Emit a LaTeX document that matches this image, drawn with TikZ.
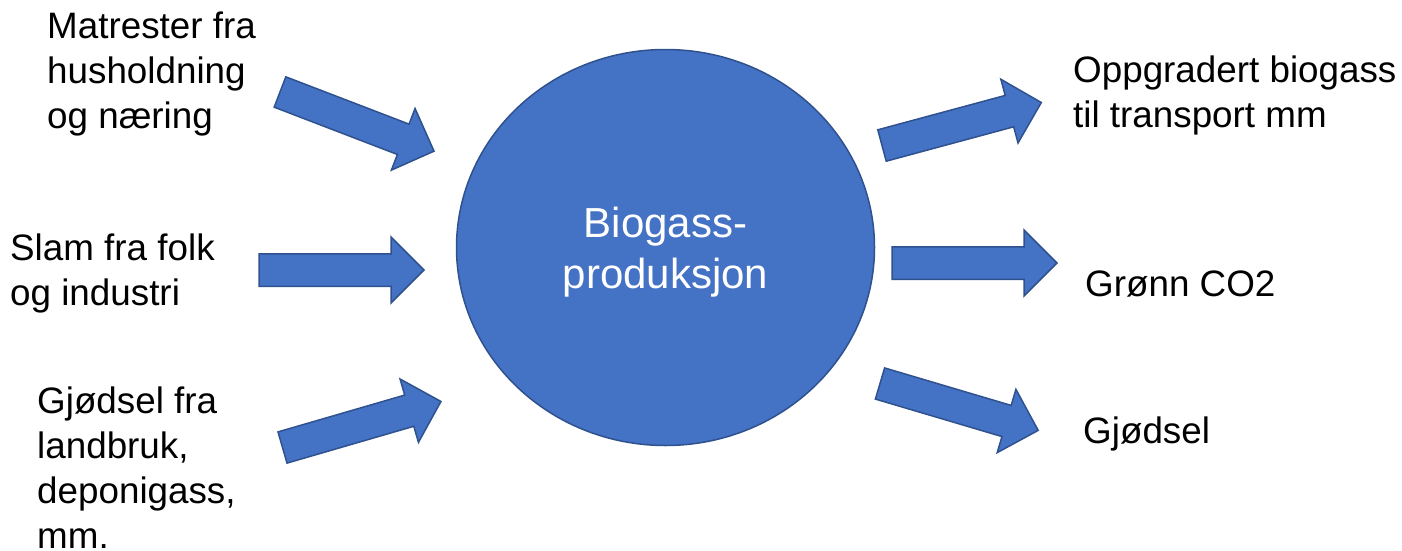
\documentclass[tikz,border=0pt]{standalone}
\usepackage{fontspec}
\setmainfont{Liberation Sans}
\usetikzlibrary{shapes.geometric,shapes.arrows}
\definecolor{officeblue}{HTML}{4472C4}
\definecolor{officeline}{HTML}{2F528F}

\begin{document}
\begin{tikzpicture}[x=1pt,y=-1pt,
  lbl/.style={anchor=base west,align=left,inner sep=0pt,font=\fontsize{36.8}{45}\selectfont},
  blockarrow/.style={single arrow,draw=officeline,fill=officeblue,line width=1.5pt,
    inner xsep=0pt,inner ysep=15.5pt,single arrow head extend=16.75pt,
    minimum height=165pt,outer sep=0pt,anchor=tail}]

\useasboundingbox (0,0) rectangle (1402,550);

\node[ellipse,draw=officeline,fill=officeblue,line width=1.5pt,inner sep=0pt,
  minimum width=418pt,minimum height=396pt,text=white,align=center,text depth=0pt,
  font=\fontsize{42}{51}\selectfont] at (665.5,247.5) (bio) {Biogass-\\produksjon};

% base west sits on the last line
\node[lbl] at (47,128) (mat) {Matrester fra\\husholdning\\og næring};
\node[lbl] at (10,305) (slam) {Slam fra folk\\og industri};
\node[lbl] at (37,548) (gjin) {Gjødsel fra\\landbruk,\\deponigass,\\mm.};
\node[lbl] at (1073,127) (opp) {Oppgradert biogass\\til transport mm};
\node[lbl] at (1085,296) (co) {Grønn CO2};
\node[lbl] at (1083,443) (gjout) {Gjødsel};

\node[blockarrow,rotate=-21] at (280,92) (amat) {};
\node[blockarrow] at (259,270) (aslam) {};
\node[blockarrow,rotate=16.2] at (282.5,447.5) (agjin) {};
\node[blockarrow,rotate=15.1] at (882,145.5) (aopp) {};
\node[blockarrow] at (892,263) (aco) {};
\node[blockarrow,rotate=-16.5] at (880,383.5) (agjout) {};

\end{tikzpicture}
\end{document}
